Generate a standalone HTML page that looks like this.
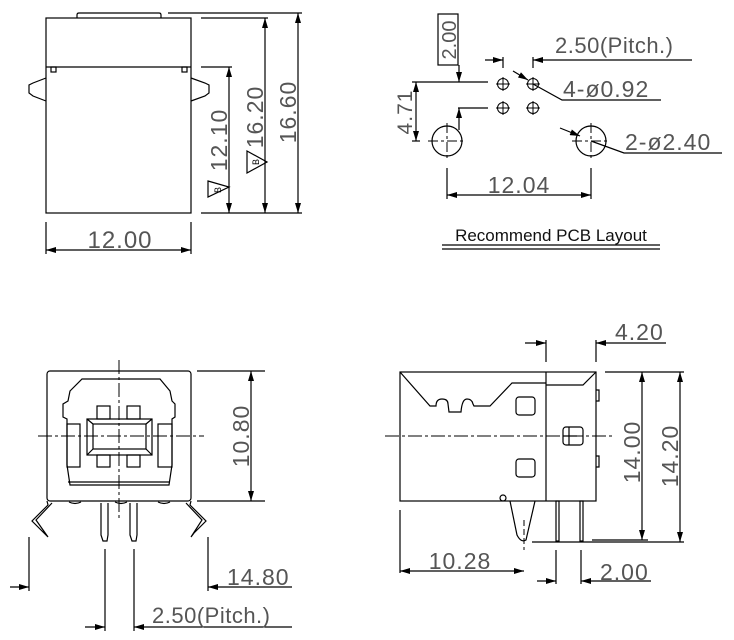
<!DOCTYPE html>
<html><head><meta charset="utf-8"><style>
html,body{margin:0;padding:0;background:#fff;}
svg{display:block;}
text{font-family:"Liberation Sans",sans-serif;fill:#555;}
</style></head><body>
<svg width="734" height="640" viewBox="0 0 734 640" xmlns="http://www.w3.org/2000/svg">
<defs>
<marker id="a" viewBox="0 0 10 6" refX="10" refY="3" markerWidth="10" markerHeight="6" orient="auto-start-reverse" markerUnits="userSpaceOnUse"><path d="M0,0L10,3L0,6z" fill="#000"/></marker>
</defs>
<g stroke="#000" stroke-width="1.2" fill="none">
<!-- TOP LEFT -->
<rect x="46" y="18" width="145" height="195"/>
<path d="M77,18 V15 Q77,13 79,13 H159 Q161,13 161,15 V18"/>
<line x1="46" y1="67" x2="191" y2="67"/>
<rect x="51" y="67" width="5" height="5"/><rect x="182" y="67" width="5" height="5"/>
<path d="M46,78 L33,83 L29,85 V93 L33,96 L46,101"/>
<path d="M191,78 L205,83 L209,85 V93 L205,96 L191,101"/>
<line x1="168" y1="13" x2="302" y2="13"/>
<line x1="201" y1="18" x2="268" y2="18"/>
<line x1="201" y1="67" x2="232" y2="67"/>
<line x1="201" y1="213" x2="302" y2="213"/>
<line x1="229" y1="67" x2="229" y2="213" marker-start="url(#a)" marker-end="url(#a)"/>
<line x1="265" y1="18" x2="265" y2="213" marker-start="url(#a)" marker-end="url(#a)"/>
<line x1="298" y1="13" x2="298" y2="213" marker-start="url(#a)" marker-end="url(#a)"/>
<path d="M208,181 L229,187 L208,197 Z"/>
<path d="M247,151 L267,162 L247,173 Z"/>
<line x1="46" y1="222" x2="46" y2="254"/><line x1="191" y1="222" x2="191" y2="254"/>
<line x1="46" y1="250" x2="191" y2="250" marker-start="url(#a)" marker-end="url(#a)"/>

<!-- TOP RIGHT -->
<rect x="438" y="14" width="20" height="51"/>
<line x1="459" y1="65" x2="459" y2="82" marker-end="url(#a)"/>
<line x1="412" y1="82" x2="488" y2="82"/>
<line x1="458" y1="108" x2="488" y2="108"/>
<line x1="459" y1="130" x2="459" y2="108" marker-end="url(#a)"/>
<line x1="412" y1="141" x2="420" y2="141"/>
<line x1="416" y1="82" x2="416" y2="141" marker-start="url(#a)" marker-end="url(#a)"/>
<g stroke-width="1">
<circle cx="503" cy="84" r="5.5"/><path d="M496,84h14M503,77v14"/>
<circle cx="533" cy="84" r="5.5"/><path d="M526,84h14M533,77v14"/>
<circle cx="503" cy="108" r="5.5"/><path d="M496,108h14M503,101v14"/>
<circle cx="533" cy="108" r="5.5"/><path d="M526,108h14M533,101v14"/>
</g>
<circle cx="447" cy="141" r="15"/><circle cx="591" cy="141" r="15"/>
<path d="M428,141h38M447,123v36M572,141h38M591,123v36" stroke-dasharray="10,3,3,3" stroke-width="1"/>
<line x1="485" y1="60" x2="503" y2="60" marker-end="url(#a)"/>
<line x1="692" y1="60" x2="533" y2="60" marker-end="url(#a)"/>
<line x1="503" y1="57" x2="503" y2="68"/><line x1="533" y1="57" x2="533" y2="68"/>
<line x1="513" y1="71" x2="528" y2="80" marker-end="url(#a)"/>
<path d="M533,84 L562,100 H661"/>
<line x1="560" y1="128" x2="580" y2="136" marker-end="url(#a)"/>
<path d="M591,141 L624,153 H722"/>
<line x1="447" y1="168" x2="447" y2="199"/><line x1="591" y1="168" x2="591" y2="199"/>
<line x1="447" y1="195" x2="591" y2="195" marker-start="url(#a)" marker-end="url(#a)"/>
<line x1="442" y1="245" x2="660" y2="245"/><line x1="442" y1="249" x2="660" y2="249"/>

<!-- BOTTOM LEFT -->
<rect x="47" y="371" width="144" height="130" rx="3"/>
<path d="M67,465 V419 L63,417 V404 L68,401 L70,391 L82,379 H160 L170,391 L172,401 L175,404 V417 L172,419 V465 L169,485 H70 Z"/>
<line x1="68" y1="482" x2="170" y2="482"/>
<rect x="87" y="419" width="65" height="36"/><rect x="93" y="424" width="53" height="25"/>
<path d="M87,419 L93,424 M152,419 L146,424 M87,455 L93,449 M152,455 L146,449"/>
<rect x="97" y="406" width="13" height="13"/><rect x="127" y="406" width="13" height="13"/>
<rect x="97" y="455" width="13" height="12"/><rect x="127" y="455" width="13" height="12"/>
<rect x="67" y="424" width="13" height="43"/><rect x="158" y="424" width="14" height="43"/>
<path d="M119,360 V520 M38,436 H204" stroke-dasharray="14,3,3,3" stroke-width="1"/>
<path d="M47,501 L48,505 L32,521 L44,533 M52,503 L36,520 L48,537 L44,533"/>
<path d="M191,501 L190,505 L206,521 L194,533 M186,503 L202,520 L191,537 L194,533"/>
<path d="M101,503 V535 L103,541 H107 L108,535 V503"/>
<path d="M130,503 V535 L132,541 H136 L137,535 V503"/>
<path d="M69,502 q6,3 12,0 M115,502 q6,3 12,0 M158,502 q6,3 12,0"/>
<line x1="197" y1="371" x2="265" y2="371"/><line x1="197" y1="501" x2="265" y2="501"/>
<line x1="251" y1="371" x2="251" y2="501" marker-start="url(#a)" marker-end="url(#a)"/>
<line x1="29" y1="537" x2="29" y2="591"/><line x1="208" y1="537" x2="208" y2="591"/>
<line x1="10" y1="587" x2="29" y2="587" marker-end="url(#a)"/>
<line x1="292" y1="587" x2="208" y2="587" marker-end="url(#a)"/>
<line x1="105" y1="549" x2="105" y2="631"/><line x1="134" y1="549" x2="134" y2="631"/>
<line x1="85" y1="627" x2="105" y2="627" marker-end="url(#a)"/>
<line x1="292" y1="627" x2="134" y2="627" marker-end="url(#a)"/>

<!-- BOTTOM RIGHT -->
<rect x="400" y="372" width="196" height="129"/>
<line x1="546" y1="372" x2="546" y2="501"/>
<path d="M400,372 L430,406 H436 Q436,399 442,399 Q448,399 448,404 L449,412 H461 Q462,399 467,399 Q472,399 473,404 L474,406 H490 L512,383 H546"/>
<path d="M546,385 H583 L596,372"/>
<rect x="516" y="397" width="19" height="18" rx="3"/>
<rect x="516" y="459" width="19" height="18" rx="3"/>
<rect x="563" y="427" width="20" height="18" rx="3"/>
<path d="M569,427v18M563,436h14"/>
<path d="M596,390 H599 V401 H596 M596,456 H599 V467 H596"/>
<path d="M385,436 H612" stroke-dasharray="14,3,3,3" stroke-width="1"/>
<path d="M510,501 L517,535 Q521,543 526,540 L535,501"/>
<path d="M524,520 V550" stroke-dasharray="6,3" stroke-width="1"/>
<circle cx="503" cy="498" r="3"/>
<rect x="556" y="501" width="3" height="40"/><rect x="580" y="501" width="3" height="40"/>
<line x1="605" y1="372" x2="684" y2="372"/>
<line x1="592" y1="540" x2="648" y2="540"/>
<line x1="532" y1="542" x2="684" y2="542"/>
<line x1="642" y1="372" x2="642" y2="540" marker-start="url(#a)" marker-end="url(#a)"/>
<line x1="680" y1="372" x2="680" y2="542" marker-start="url(#a)" marker-end="url(#a)"/>
<line x1="546" y1="340" x2="546" y2="362"/><line x1="596" y1="340" x2="596" y2="362"/>
<line x1="525" y1="343" x2="546" y2="343" marker-end="url(#a)"/>
<line x1="666" y1="343" x2="596" y2="343" marker-end="url(#a)"/>
<line x1="400" y1="510" x2="400" y2="573"/>
<line x1="400" y1="571" x2="524" y2="571" marker-start="url(#a)" marker-end="url(#a)"/>
<line x1="556" y1="550" x2="556" y2="584"/><line x1="581" y1="550" x2="581" y2="584"/>
<line x1="537" y1="581" x2="556" y2="581" marker-end="url(#a)"/>
<line x1="651" y1="581" x2="581" y2="581" marker-end="url(#a)"/>
</g>
<g font-size="23" letter-spacing="1">
<text x="120" y="248" text-anchor="middle" font-size="24">12.00</text>
<text transform="translate(227,140) rotate(-90)" text-anchor="middle">12.10</text>
<text transform="translate(263,117) rotate(-90)" text-anchor="middle">16.20</text>
<text transform="translate(296,112) rotate(-90)" text-anchor="middle">16.60</text>
<text transform="translate(221,190) rotate(-90)" font-size="9" text-anchor="middle" letter-spacing="0" style="fill:#000">B</text>
<text transform="translate(259,162) rotate(-90)" font-size="9" text-anchor="middle" letter-spacing="0" style="fill:#000">B</text>
<text transform="translate(456,40) rotate(-90)" text-anchor="middle" font-size="20" letter-spacing="0">2.00</text>
<text transform="translate(412,112) rotate(-90)" text-anchor="middle" font-size="21">4.71</text>
<text x="555" y="53" font-size="22" letter-spacing="0.5">2.50(Pitch.)</text>
<text x="563" y="97">4-ø0.92</text>
<text x="625" y="150">2-ø2.40</text>
<text x="519" y="193" text-anchor="middle">12.04</text>
<text x="551" y="241" text-anchor="middle" font-size="17" letter-spacing="0" style="fill:#111">Recommend PCB Layout</text>
<text transform="translate(249,436) rotate(-90)" text-anchor="middle">10.80</text>
<text x="227" y="585">14.80</text>
<text x="152" y="623" font-size="22" letter-spacing="0.5">2.50(Pitch.)</text>
<text x="615" y="340">4.20</text>
<text transform="translate(640,452) rotate(-90)" text-anchor="middle">14.00</text>
<text transform="translate(678,456) rotate(-90)" text-anchor="middle">14.20</text>
<text x="460" y="569" text-anchor="middle">10.28</text>
<text x="600" y="580">2.00</text>
</g>
</svg>
</body></html>
